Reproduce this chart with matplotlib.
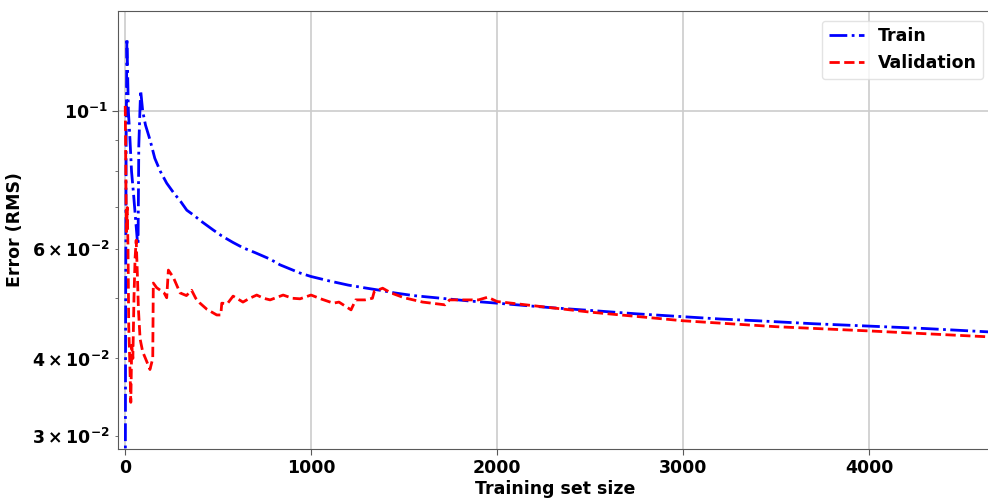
import matplotlib
matplotlib.use("Agg")
import matplotlib.pyplot as plt

# learning curve: RMS error against training set size
train_sizes = [1, 3, 6, 10, 14, 18, 25, 35, 45, 55, 66, 70, 74, 80, 84, 95, 110, 134,
               160, 190, 224, 260, 300, 332, 370, 410, 474, 520, 580, 634, 700, 780,
               833, 941, 1000, 1100, 1200, 1300, 1371, 1450, 1550, 1700, 1850, 2000,
               2285, 2500, 2750, 3000, 3200, 3400, 3700, 4000, 4300, 4670]
train_rmse = [0.020, 0.045, 0.090, 0.131, 0.115, 0.100, 0.092, 0.080, 0.074, 0.068,
              0.062, 0.061, 0.088, 0.100, 0.108, 0.100, 0.095, 0.090, 0.084, 0.080,
              0.0766, 0.074, 0.0715, 0.0693, 0.068, 0.0665, 0.0644, 0.063, 0.0615,
              0.0603, 0.0592, 0.0578, 0.0566, 0.0549, 0.0542, 0.0533, 0.0525, 0.0519,
              0.0515, 0.0510, 0.0505, 0.0500, 0.0495, 0.0491, 0.0483, 0.0478, 0.0472,
              0.0467, 0.0463, 0.0460, 0.0455, 0.0451, 0.0447, 0.0441]

val_sizes = [1, 3, 5, 8, 12, 16, 20, 25, 31, 36, 42, 48, 54, 60, 66, 72, 81, 95, 110,
             125, 134, 149, 152, 170, 190, 210, 224, 233, 260, 296, 330, 358, 380, 403,
             440, 493, 515, 520, 550, 581, 634, 670, 708, 745, 780, 850, 900, 941, 1000,
             1060, 1120, 1150, 1215, 1240, 1290, 1330, 1340, 1385, 1430, 1500, 1600,
             1720, 1745, 1900, 1950, 2000, 2285, 2500, 3000, 3500, 4000, 4670]
val_rmse = [0.102, 0.090, 0.075, 0.064, 0.070, 0.060, 0.045, 0.040, 0.034, 0.042,
            0.040, 0.050, 0.058, 0.062, 0.055, 0.048, 0.043, 0.041, 0.040, 0.039,
            0.0384, 0.040, 0.0529, 0.052, 0.0515, 0.051, 0.0501, 0.0555, 0.054, 0.051,
            0.0505, 0.0515, 0.050, 0.0491, 0.048, 0.0470, 0.047, 0.0491, 0.049, 0.0504,
            0.0493, 0.050, 0.0506, 0.0500, 0.0497, 0.0506, 0.0500, 0.0499, 0.0506,
            0.0498, 0.0491, 0.0493, 0.0479, 0.0497, 0.0497, 0.0500, 0.0513, 0.0519,
            0.0510, 0.0501, 0.0493, 0.0488, 0.0497, 0.0497, 0.0502, 0.0494, 0.0483,
            0.0475, 0.0460, 0.0450, 0.0443, 0.0433]

plt.rcParams['font.weight'] = 'bold'
plt.rcParams['axes.labelweight'] = 'bold'

fig = plt.figure(figsize=(9.88, 4.99), dpi=100)
# axes run slightly past the right edge of the canvas
ax = fig.add_axes([0.1194, 0.1002, 0.8856, 0.8778])

ax.plot(train_sizes, train_rmse, 'b-.', linewidth=2, label='Train')
ax.plot(val_sizes, val_rmse, 'r--', linewidth=2, label='Validation')

ax.set_yscale('log')
ax.set_xlim(-38, 4666)
ax.set_ylim(0.0286, 0.145)

ax.grid(True, which='major', color='#cccccc', linewidth=1.2)
ax.set_axisbelow(True)
for s in ax.spines.values():
    s.set_color('0.35')

ax.tick_params(axis='both', which='major', labelsize=12.5, length=4, color='0.35')
ax.tick_params(axis='y', which='minor', labelsize=12.5, length=2.5, color='0.35')

ax.set_xlabel('Training set size', fontsize=12.5, labelpad=2)
ax.set_ylabel('Error (RMS)', fontsize=12.5, labelpad=6)

leg = ax.legend(loc='upper right', fontsize=12.5, frameon=True, fancybox=True,
                borderaxespad=0.55)
leg.get_frame().set_edgecolor('#dddddd')

fig.savefig('out.png', dpi=100)
